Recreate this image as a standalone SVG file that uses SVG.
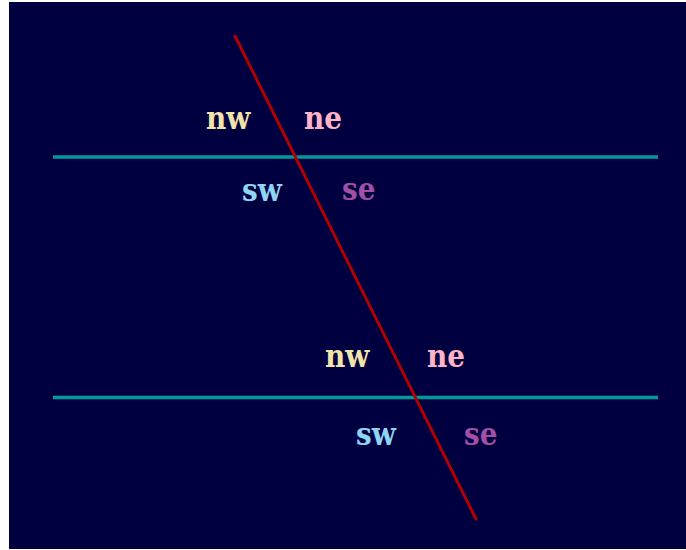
<svg xmlns="http://www.w3.org/2000/svg" width="686" height="550" viewBox="0 0 686 550">
  <style>
    .bg { fill: #000040; }
    .parallel { stroke: #009a9a; stroke-width: 3.5; fill: none; }
    .transversal { stroke: #b00000; stroke-width: 3; fill: none; stroke-linecap: round; }
    .lbl { font-family: "DejaVu Serif Condensed", "DejaVu Serif", serif; font-stretch: condensed; font-weight: bold; font-size: 31px; }
    .nw { fill: #f2e3a8; }
    .ne { fill: #ffb3c6; }
    .sw { fill: #8fd4f2; }
    .se { fill: #a24fa6; }
  </style>
  <rect class="bg" x="9" y="2" width="677" height="547"/>
  <g id="connectors">
    <line class="parallel" x1="53" y1="157" x2="658" y2="157"/>
    <line class="parallel" x1="53" y1="397.5" x2="658" y2="397.5"/>
    <line class="transversal" x1="235" y1="36" x2="476" y2="519"/>
  </g>
  <g id="upper-angles">
    <text class="lbl nw" x="206" y="129">nw</text>
    <text class="lbl ne" x="304" y="129">ne</text>
    <text class="lbl sw" x="242" y="200.5">sw</text>
    <text class="lbl se" x="342" y="200">se</text>
  </g>
  <g id="lower-angles">
    <text class="lbl nw" x="325" y="366.5">nw</text>
    <text class="lbl ne" x="427" y="366.5">ne</text>
    <text class="lbl sw" x="356" y="445">sw</text>
    <text class="lbl se" x="464" y="445">se</text>
  </g>
</svg>
